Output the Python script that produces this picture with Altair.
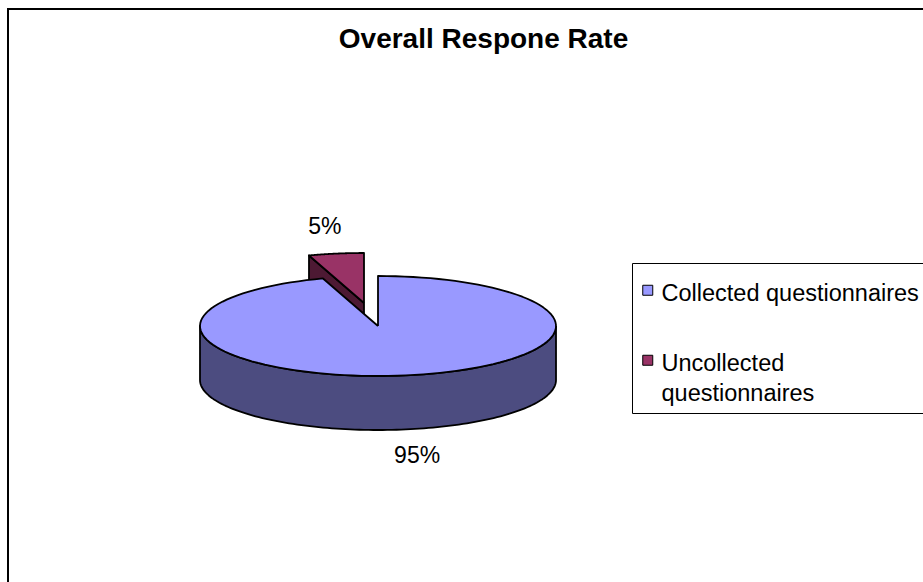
import json

import altair as alt
import pandas as pd

# Survey response counts (percent of questionnaires handed out)
categories = ["Collected questionnaires", "Uncollected questionnaires"]
values = [95, 5]

# Colours of the top faces and of the darker extruded sides
top_colors = ["#9999FF", "#993366"]
side_colors = ["#4C4C80", "#4D1933"]

# Canvas and pseudo-3D pie geometry (pixels)
W, H = 923, 582
CX, CY = 378, 326          # centre of the top ellipse
RX, RY = 178, 50           # ellipse radii
DEPTH = 54                 # thickness of the pie
EXPLODED = "Uncollected questionnaires"
EX_DX, EX_DY = -14, -23    # offset of the pulled-out slice
LRX, LRY = 250, 77         # radii used to place the percentage labels
N = 120                    # samples along each arc
FONT = "Liberation Sans"

source = pd.DataFrame({"category": categories, "value": values})

xs = alt.Scale(domain=[0, W], nice=False, zero=False)
ys = alt.Scale(domain=[0, H], nice=False, zero=False, reverse=True)


def xy(xf="px", yf="py"):
    return dict(
        x=alt.X(f"{xf}:Q", scale=xs, axis=None),
        y=alt.Y(f"{yf}:Q", scale=ys, axis=None),
    )


# Start / end angle of each slice, measured clockwise from 12 o'clock
base = (
    alt.Chart(source)
    .transform_joinaggregate(total="sum(value)")
    .transform_window(cum="sum(value)", idx="row_number()", frame=[None, 0])
    .transform_calculate(a0="2 * PI * (datum.cum - datum.value) / datum.total")
    .transform_calculate(a1="2 * PI * datum.cum / datum.total")
    .transform_calculate(ox=f"datum.category === {json.dumps(EXPLODED)} ? {EX_DX} : 0")
    .transform_calculate(oy=f"datum.category === {json.dumps(EXPLODED)} ? {EX_DY} : 0")
    .transform_calculate(shade=f"{json.dumps(side_colors)}[datum.idx - 1]")
)

line_style = dict(stroke="black", strokeWidth=1.8, strokeJoin="round")

# Flat radial face at the start edge of a slice (visible on the left half)
faces = (
    base.transform_filter("sin(datum.a0) < -1e-6")
    .transform_calculate(j="sequence(0, 5)")
    .transform_flatten(["j"])
    .transform_calculate(onrim="datum.j === 1 || datum.j === 2")
    .transform_calculate(low="datum.j === 2 || datum.j === 3")
    .transform_calculate(
        px=f"{CX} + datum.ox + (datum.onrim ? {RX} * sin(datum.a0) : 0)",
        py=f"{CY} + datum.oy - (datum.onrim ? {RY} * cos(datum.a0) : 0) + (datum.low ? {DEPTH} : 0)",
    )
    .mark_line(**line_style)
    .encode(**xy(), order="j:Q", detail="category:N",
            fill=alt.Fill("shade:N", scale=None, legend=None))
)

# Curved outer wall: only the front half (90..270 degrees) can be seen
sides = (
    base.transform_calculate(lo="max(datum.a0, PI / 2)", hi="min(datum.a1, 3 * PI / 2)")
    .transform_filter("datum.hi > datum.lo")
    .transform_calculate(k=f"sequence(0, {2 * N + 3})")
    .transform_flatten(["k"])
    .transform_calculate(up=f"datum.k <= {N} || datum.k === {2 * N + 2}")
    .transform_calculate(
        t=(f"datum.k <= {N} ? datum.lo + (datum.hi - datum.lo) * datum.k / {N} : "
           f"(datum.k <= {2 * N + 1} ? datum.hi - (datum.hi - datum.lo) * (datum.k - {N + 1}) / {N} : datum.lo)")
    )
    .transform_calculate(
        px=f"{CX} + datum.ox + {RX} * sin(datum.t)",
        py=f"{CY} + datum.oy - {RY} * cos(datum.t) + (datum.up ? 0 : {DEPTH})",
    )
    .mark_line(**line_style)
    .encode(**xy(), order="k:Q", detail="category:N",
            fill=alt.Fill("shade:N", scale=None, legend=None))
)

# Square legend symbol nudged down so it sits level with the first label line
symbol_path = "M-1,0.7H1V2.7H-1Z"

legend = alt.Legend(
    title=None,
    orient="none", legendX=632, legendY=263, padding=7,
    strokeColor="black", fillColor="white",
    symbolType=symbol_path, symbolSize=100, symbolOffset=-3,
    symbolStrokeColor="black", symbolStrokeWidth=1,
    labelFont=FONT, labelFontSize=23.5, labelColor="black",
    labelBaseline="top", labelOffset=2, labelLimit=0, rowPadding=34,
    labelExpr="length(datum.label) > 24 ? split(datum.label, ' ') : datum.label",
)

# Top face of every slice: apex -> arc -> apex
tops = (
    base.transform_calculate(k=f"sequence(-1, {N + 2})")
    .transform_flatten(["k"])
    .transform_calculate(rim=f"datum.k >= 0 && datum.k <= {N}")
    .transform_calculate(t=f"datum.a0 + (datum.a1 - datum.a0) * clamp(datum.k, 0, {N}) / {N}")
    .transform_calculate(
        px=f"{CX} + datum.ox + (datum.rim ? {RX} * sin(datum.t) : 0)",
        py=f"{CY} + datum.oy - (datum.rim ? {RY} * cos(datum.t) : 0)",
    )
    .mark_line(**line_style)
    .encode(
        **xy(),
        order="k:Q",
        fill=alt.Fill("category:N",
                      scale=alt.Scale(domain=categories, range=top_colors),
                      legend=legend),
    )
)

# Percentage labels outside the pie
labels = (
    base.transform_calculate(mid="(datum.a0 + datum.a1) / 2")
    .transform_calculate(
        lx=f"{CX} + datum.ox + {LRX} * sin(datum.mid)",
        ly=f"{CY} + datum.oy - {LRY} * cos(datum.mid) + (cos(datum.mid) < 0 ? {DEPTH} : 0)",
        txt="format(datum.value / datum.total, '.0%')",
    )
    .mark_text(font=FONT, fontSize=23, color="black")
    .encode(**xy("lx", "ly"), text="txt:N")
)

# Chart-area border
frame = (
    alt.Chart(alt.Data(values=[{}]))
    .mark_rect(fill="white", stroke="black", strokeWidth=2)
    .encode(x=alt.value(8), y=alt.value(9), x2=alt.value(W + 40), y2=alt.value(H + 40))
)

chart = (
    alt.layer(frame, faces, sides, tops, labels)
    .resolve_scale(fill="independent")
    .properties(
        width=W,
        height=H,
        padding=0,
        autosize=alt.AutoSizeParams(type="none"),
        background="white",
        title=alt.Title(
            "Overall Respone Rate",
            font=FONT, fontSize=28, fontWeight="bold", color="black",
            anchor="middle", frame="group", offset=-54, dx=22,
        ),
    )
    .configure(style={"guide-label": {"lineHeight": 30}})
    .configure_view(stroke=None)
)

chart.save("out.html", embed_options={"renderer": "svg", "actions": False})
